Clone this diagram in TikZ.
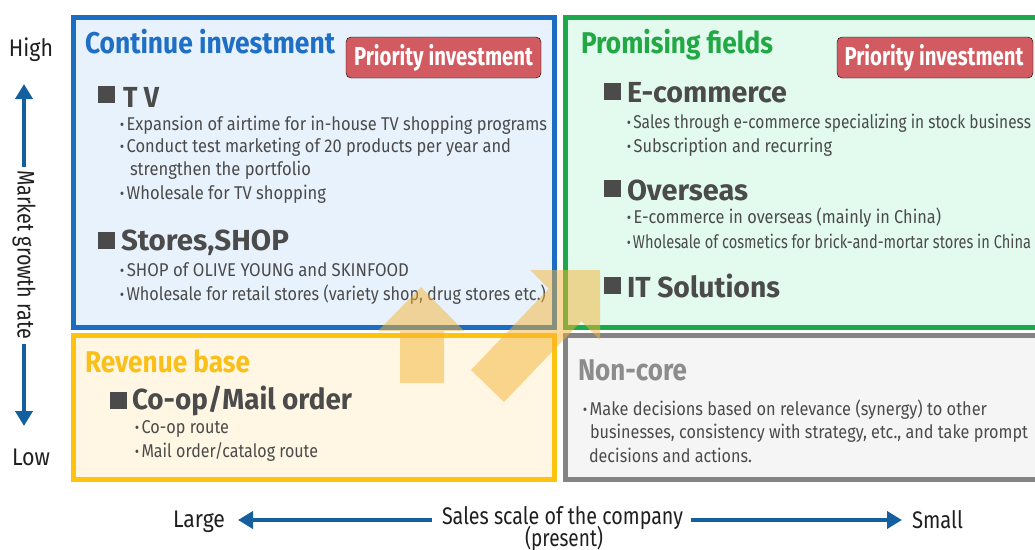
\documentclass[tikz,border=0pt]{standalone}
\usepackage{fontspec}
\setmainfont{Fira Sans}
\usepackage{graphicx}
\usetikzlibrary{arrows.meta}

\definecolor{ink}{HTML}{4B4B4B}
\definecolor{bluebd}{HTML}{1A6DC2}
\definecolor{bluetx}{HTML}{1F6FC5}
\definecolor{bluefill}{HTML}{E7F2FC}
\definecolor{greenbd}{HTML}{1BA94C}
\definecolor{greentx}{HTML}{22A845}
\definecolor{greenfill}{HTML}{E2FBEE}
\definecolor{yellowbd}{HTML}{FFC20F}
\definecolor{yellowtx}{HTML}{FBBF1B}
\definecolor{yellowfill}{HTML}{FFF7E3}
\definecolor{graybd}{HTML}{848484}
\definecolor{graytx}{HTML}{8C8C8C}
\definecolor{grayfill}{HTML}{F5F5F5}
\definecolor{prio}{HTML}{D15B60}
\definecolor{arrowor}{HTML}{F5B335}
\definecolor{axisblue}{HTML}{14609F}

% squeeze a line of text to a given width (pt), keeping its height
\newcommand{\fitw}[2]{\resizebox{#1pt}{\height}{#2}}
% list bullet
\newcommand{\bul}{{\bfseries ·}\,}

\begin{document}
\begin{tikzpicture}[x=1pt,y=-1pt,
  txt/.style={anchor=base west, inner sep=0pt, outer sep=0pt},
  title/.style={txt, font=\fontsize{30}{32}\selectfont\bfseries},
  item/.style={txt, font=\fontsize{29}{32}\selectfont\bfseries, text=ink},
  body/.style={txt, font=\fontsize{18.5}{20}\selectfont, text=ink},
  axislbl/.style={txt, font=\fontsize{24}{26}\selectfont, text=black!88},
  quad/.style={line width=5pt},
  prio/.style={fill=prio, rounded corners=5pt},
  priotxt/.style={anchor=base, inner sep=0pt, text=white, font=\fontsize{26}{28}\selectfont\bfseries},
  sqmark/.style={fill=ink, inner sep=0pt, minimum size=17pt},
  axisarrow/.style={draw=axisblue, line width=4pt, -{Triangle[length=15pt,width=17pt]}},
  bigarrow/.style={fill=arrowor, fill opacity=0.5}
]
\useasboundingbox (0,0) rectangle (1035,549);
\clip (0,0) rectangle (1035,549);

% ---- quadrants
\draw[quad, draw=bluebd, fill=bluefill] (73.5,17.5) rectangle (554.5,327.5);
\draw[quad, draw=greenbd, fill=greenfill] (565.5,17.5) rectangle (1060,327.5);
\draw[quad, draw=yellowbd, fill=yellowfill] (73.5,335.5) rectangle (554.5,479.5);
\draw[quad, draw=graybd, fill=grayfill] (565.5,335.5) rectangle (1060,479.5);

% ---- quadrant titles
\node[title, text=bluetx] (tcont) at (85,53) {\fitw{250}{Continue investment}};
\node[title, text=greentx] (tprom) at (581,53) {\fitw{192}{Promising fields}};
\node[title, text=yellowtx] (trev) at (85,372) {\fitw{165}{Revenue base}};
\node[title, text=graytx] (tnon) at (578,380) {\fitw{109}{Non-core}};

% ---- priority tags
\draw[prio] (346,37) rectangle (541,78);
\node[priotxt] (prioA) at (443.5,65) {\fitw{179}{Priority investment}};
\draw[prio] (837,37) rectangle (1033,78);
\node[priotxt] (prioB) at (934,65) {\fitw{179}{Priority investment}};

% ---- Continue investment
\node[sqmark] (sqtv) at (106.5,94.5) {};
\node[item] (tv) at (123,107) {\fitw{36}{T V}};
\node[body] (tv1) at (120,130) {\fitw{427}{\bul Expansion of airtime for in-house TV shopping programs}};
\node[body] (tv2) at (120,152) {\fitw{391}{\bul Conduct test marketing of 20 products per year and}};
\node[body] (tv3) at (130,175) {\fitw{181}{strengthen the portfolio}};
\node[body] (tv4) at (120,199) {\fitw{206}{\bul Wholesale for TV shopping}};
\node[sqmark] (sqst) at (106.5,240.5) {};
\node[item] (st) at (121,250) {\fitw{168}{Stores,SHOP}};
\node[body] (st1) at (120,276) {\fitw{289}{\bul SHOP of OLIVE YOUNG and SKINFOOD}};
\node[body] (st2) at (120,300) {\fitw{426}{\bul Wholesale for retail stores (variety shop, drug stores etc.)}};

% ---- Promising fields
\node[sqmark] (sqec) at (612,91.5) {};
\node[item] (ec) at (627,102) {\fitw{160}{E-commerce}};
\node[body] (ec1) at (627,128) {\fitw{404}{\bul Sales through e-commerce specializing in stock business}};
\node[body] (ec2) at (627,152) {\fitw{205}{\bul Subscription and recurring}};
\node[sqmark] (sqov) at (612,188.5) {};
\node[item] (ov) at (627,200) {\fitw{121}{Overseas}};
\node[body] (ov1) at (627,223) {\fitw{314}{\bul E-commerce in overseas (mainly in China)}};
\node[body] (ov2) at (627,248) {\fitw{404}{\bul Wholesale of cosmetics for brick-and-mortar stores in China}};
\node[sqmark] (sqit) at (612,285.5) {};
\node[item] (it) at (627,297) {\fitw{153}{IT Solutions}};

% ---- Revenue base
\node[sqmark] (sqco) at (118,400) {};
\node[item] (co) at (132,409) {\fitw{220}{Co-op/Mail order}};
\node[body] (co1) at (135,433) {\fitw{94}{\bul Co-op route}};
\node[body] (co2) at (135,457) {\fitw{183}{\bul Mail order/catalog route}};

% ---- Non-core
\node[body] (nc1) at (583,415) {\fitw{404}{\bul Make decisions based on relevance (synergy) to other}};
\node[body] (nc2) at (590,438) {\fitw{438}{businesses, consistency with strategy, etc., and take prompt}};
\node[body] (nc3) at (589,462) {\fitw{163}{decisions and actions.}};

% ---- vertical axis
\node[axislbl] (high) at (9,56) {\fitw{44}{High}};
\node[axislbl] (low) at (12,465) {\fitw{38}{Low}};
\node[axislbl, rotate=-90, anchor=center] (mgr) at (24,254.5) {\fitw{169}{Market growth rate}};
\coordinate (upfoot) at (24,167);
\coordinate (uptip) at (24,84);
\coordinate (downfoot) at (24,344);
\coordinate (downtip) at (24,426);
\draw[axisarrow] (upfoot) -- (uptip);
\draw[axisarrow] (downfoot) -- (downtip);

% ---- horizontal axis
\node[axislbl] (large) at (173,527) {\fitw{52}{Large}};
\node[axislbl] (sales) at (442,524) {\fitw{241}{Sales scale of the company}};
\node[axislbl] (present) at (525,546) {\fitw{78}{(present)}};
\node[axislbl] (small) at (912,528) {\fitw{51}{Small}};
\coordinate (leftfoot) at (432,520);
\coordinate (lefttip) at (238,520);
\coordinate (rightfoot) at (691,520);
\coordinate (righttip) at (902,520);
\draw[axisarrow] (leftfoot) -- (lefttip);
\draw[axisarrow] (rightfoot) -- (righttip);

% ---- translucent growth arrows
\fill[bigarrow] (400,383) -- (400,331) -- (378,331) -- (421,287) -- (464,331) -- (444,331) -- (444,383) -- cycle;
\fill[bigarrow] (471,370) -- (548.7,288.7) -- (530,270) -- (600,270) -- (600,340) -- (581.3,321.3) -- (504,402) -- cycle;
\end{tikzpicture}
\end{document}
